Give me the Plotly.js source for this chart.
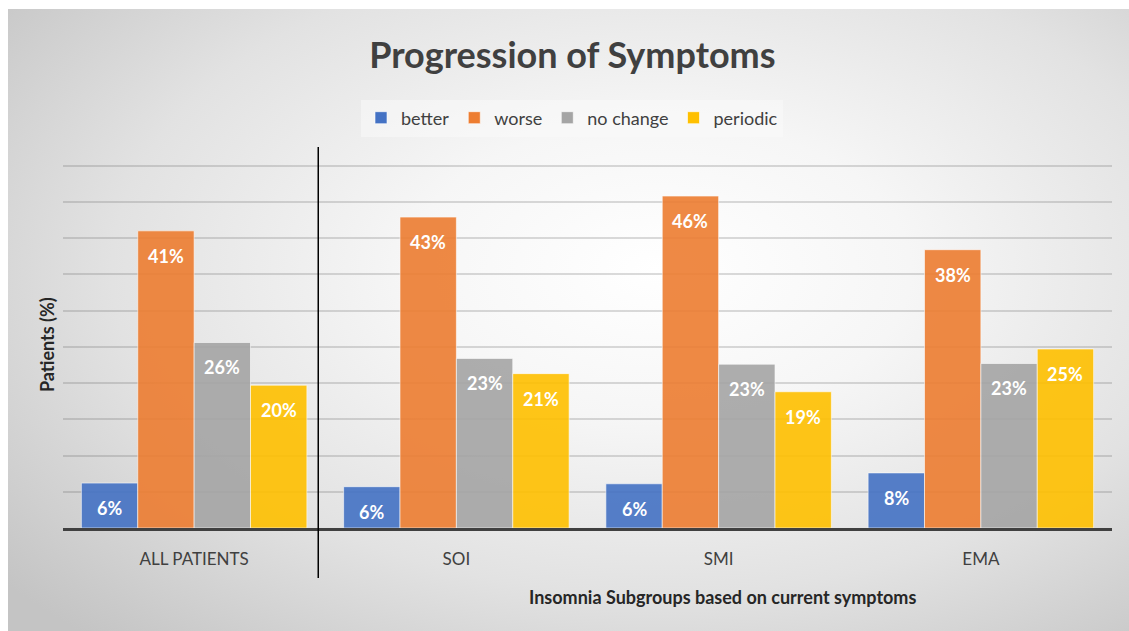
<!DOCTYPE html>
<html>
<head>
<meta charset="utf-8">
<script src="https://cdn.plot.ly/plotly-3.0.1.min.js"></script>
<style>
  html, body { margin: 0; padding: 0; background: #ffffff; }
  #bg {
    position: absolute; left: 8px; top: 9px; width: 1121px; height: 622px;
    background: radial-gradient(ellipse 75% 80% at 58% 42%, #ffffff 0%, #f6f6f6 30%, #e2e2e2 65%, #c4c4c4 100%);
  }
  #chart { position: absolute; left: 0; top: 0; width: 1129px; height: 631px; }
</style>
</head>
<body>
<div id="bg"></div>
<div id="chart"></div>
<script>
const categories = ["ALL PATIENTS", "SOI", "SMI", "EMA"];
const better   = [6.2, 5.7, 6.1, 7.6];
const worse    = [41.0, 42.9, 45.8, 38.4];
const noChange = [25.6, 23.4, 22.6, 22.7];
const periodic = [19.7, 21.3, 18.8, 24.7];
const seriesNames = ["better", "worse", "no change", "periodic"];
const seriesColors = ["#4472C4", "#ED7D31", "#A5A5A5", "#FFC000"];
const seriesValues = [better, worse, noChange, periodic];

const FONT = "Lato, 'Open Sans', sans-serif";
const BARGAP = 0.14;

const traces = seriesValues.map((vals, i) => ({
  type: "bar",
  name: seriesNames[i],
  x: categories,
  y: vals,
  marker: { color: seriesColors[i], opacity: 0.9, line: { color: "rgba(255,255,255,0.6)", width: 1 } },
  hoverinfo: "skip"
}));

const plotBottom = 528, plotTopMargin = 162;
const plotH = plotBottom - plotTopMargin;
const py = (pix) => (plotBottom - pix) / plotH;
const plotLeft = 63, plotRight = 1112, plotW = plotRight - plotLeft;
const px = (pix) => (pix - plotLeft) / plotW;

// pixel width of one bar in a group (layout-derived)
const catPx = plotW / categories.length;
const barPx = catPx * (1 - BARGAP) / seriesValues.length;

const labelAnnotations = [];
seriesValues.forEach((vals, i) => {
  vals.forEach((v, j) => {
    labelAnnotations.push({
      xref: "x", yref: "y", x: categories[j], y: v,
      xshift: (i - (seriesValues.length - 1) / 2) * barPx,
      yshift: -25,
      text: "<b>" + Math.round(v) + "%</b>",
      showarrow: false, xanchor: "center", yanchor: "middle",
      font: { family: FONT, size: 18, color: "#ffffff" }
    });
  });
});

const layout = {
  width: 1129, height: 631,
  margin: { l: plotLeft, r: 1129 - plotRight, t: plotTopMargin, b: 631 - plotBottom },
  paper_bgcolor: "rgba(0,0,0,0)",
  plot_bgcolor: "rgba(0,0,0,0)",
  barmode: "group",
  bargap: BARGAP,
  bargroupgap: 0,
  font: { family: FONT, color: "#404040" },
  title: {
    text: "<b>Progression of Symptoms</b>",
    font: { family: FONT, size: 36, color: "#404040" },
    x: 0.507, xanchor: "center", y: 1 - 55 / 631, yanchor: "middle"
  },
  showlegend: true,
  legend: {
    orientation: "h", x: px(572), xanchor: "center", y: py(118), yanchor: "middle",
    bgcolor: "rgba(250,250,250,0.55)",
    font: { family: FONT, size: 18, color: "#404040" },
    traceorder: "normal",
    itemclick: false, itemdoubleclick: false
  },
  xaxis: {
    type: "category",
    showline: true, linecolor: "#404040", linewidth: 3,
    ticks: "", showgrid: false,
    tickfont: { family: FONT, size: 17, color: "#404040" },
    ticklabelstandoff: 14
  },
  yaxis: {
    range: [0, 50.5], dtick: 5, showgrid: true,
    gridcolor: "rgba(90,90,90,0.22)", gridwidth: 2,
    showticklabels: false, zeroline: false, showline: false, ticks: ""
  },
  shapes: [{
    type: "line", xref: "x", yref: "paper",
    x0: 0.5 - 7 / catPx, x1: 0.5 - 7 / catPx, y0: py(578), y1: py(147),
    line: { color: "#000000", width: 1.5 }
  }],
  annotations: labelAnnotations.concat([
    {
      text: "<b>Insomnia Subgroups based on current symptoms</b>",
      xref: "paper", yref: "paper", x: px(722), y: py(597),
      xanchor: "center", yanchor: "middle", showarrow: false,
      font: { family: FONT, size: 18, color: "#262626" }
    },
    {
      text: "<b>Patients (%)</b>",
      xref: "paper", yref: "paper", x: px(47), y: py(345),
      xanchor: "center", yanchor: "middle", showarrow: false, textangle: -90,
      font: { family: FONT, size: 18, color: "#262626" }
    }
  ])
};

Plotly.newPlot("chart", traces, layout, { displayModeBar: false, staticPlot: true });
</script>
</body>
</html>
